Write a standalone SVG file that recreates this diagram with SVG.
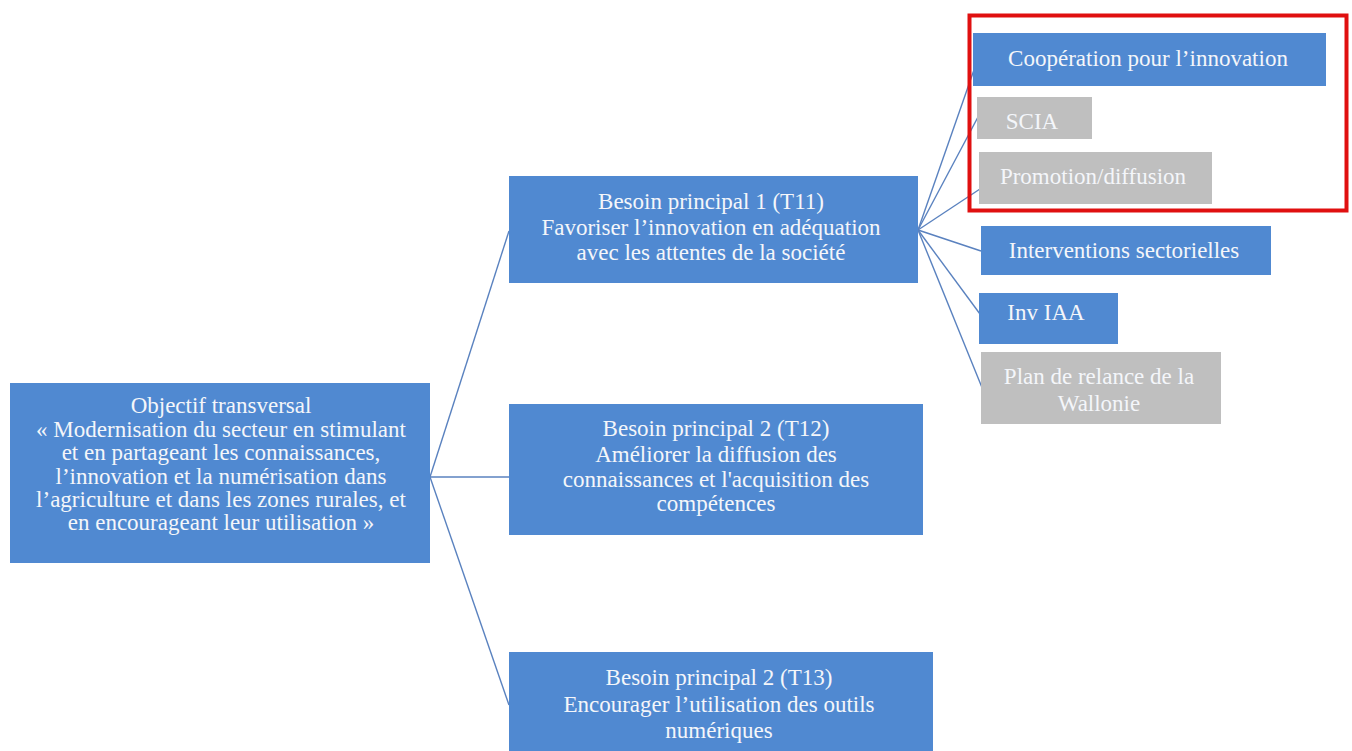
<svg xmlns="http://www.w3.org/2000/svg" width="1352" height="751" viewBox="0 0 1352 751">
<style>
.b{fill:#5089d1}
.g{fill:#bfbfbf}
.t{font-family:"Liberation Serif","Times New Roman",serif;font-size:23px;fill:#f4f6fa;text-anchor:middle}
.c{stroke:#5a82bf;stroke-width:1.4;fill:none}
</style>
<rect width="1352" height="751" fill="#ffffff"/>
<g id="connectors">
<line class="c" x1="430" y1="477" x2="509" y2="231"/>
<line class="c" x1="430" y1="477" x2="509" y2="477"/>
<line class="c" x1="430" y1="477" x2="509" y2="705"/>
<line class="c" x1="918" y1="230" x2="975" y2="67"/>
<line class="c" x1="918" y1="230" x2="978" y2="117"/>
<line class="c" x1="918" y1="230" x2="983" y2="187"/>
<line class="c" x1="918" y1="230" x2="981" y2="251"/>
<line class="c" x1="918" y1="230" x2="980" y2="314"/>
<line class="c" x1="918" y1="230" x2="983" y2="390"/>
</g>
<g id="objectif">
<rect class="b" x="10" y="383" width="420" height="180"/>
<text class="t" x="221" y="413">Objectif transversal</text>
<text class="t" x="221" y="437">« Modernisation du secteur en stimulant</text>
<text class="t" x="221" y="460">et en partageant les connaissances,</text>
<text class="t" x="221" y="484">l’innovation et la numérisation dans</text>
<text class="t" x="221" y="507">l’agriculture et dans les zones rurales, et</text>
<text class="t" x="221" y="530">en encourageant leur utilisation »</text>
</g>
<g id="t11">
<rect class="b" x="509" y="176" width="409" height="107"/>
<text class="t" x="711" y="209">Besoin principal 1 (T11)</text>
<text class="t" x="711" y="235">Favoriser l’innovation en adéquation</text>
<text class="t" x="711" y="260">avec les attentes de la société</text>
</g>
<g id="t12">
<rect class="b" x="509" y="404" width="414" height="131"/>
<text class="t" x="716" y="436">Besoin principal 2 (T12)</text>
<text class="t" x="716" y="462">Améliorer la diffusion des</text>
<text class="t" x="716" y="487">connaissances et l'acquisition des</text>
<text class="t" x="716" y="511">compétences</text>
</g>
<g id="t13">
<rect class="b" x="509" y="652" width="424" height="110"/>
<text class="t" x="719" y="685">Besoin principal 2 (T13)</text>
<text class="t" x="719" y="712">Encourager l’utilisation des outils</text>
<text class="t" x="719" y="738">numériques</text>
</g>
<g id="cooperation">
<rect class="b" x="973" y="33" width="353" height="53"/>
<text class="t" x="1148" y="66">Coopération pour l’innovation</text>
</g>
<g id="scia">
<rect class="g" x="977" y="97" width="115" height="42"/>
<text class="t" x="1032" y="129">SCIA</text>
</g>
<g id="promotion">
<rect class="g" x="979" y="152" width="233" height="52"/>
<text class="t" x="1093" y="184">Promotion/diffusion</text>
</g>
<g id="interventions">
<rect class="b" x="981" y="226" width="290" height="49"/>
<text class="t" x="1124" y="258">Interventions sectorielles</text>
</g>
<g id="inv-iaa">
<rect class="b" x="979" y="293" width="139" height="51"/>
<text class="t" x="1046" y="320">Inv IAA</text>
</g>
<g id="plan">
<rect class="g" x="981" y="352" width="240" height="72"/>
<text class="t" x="1099" y="384">Plan de relance de la</text>
<text class="t" x="1099" y="411">Wallonie</text>
</g>
<g id="highlight">
<rect x="969.5" y="15.5" width="377" height="195" fill="none" stroke="#e01010" stroke-width="4"/>
</g>
</svg>
